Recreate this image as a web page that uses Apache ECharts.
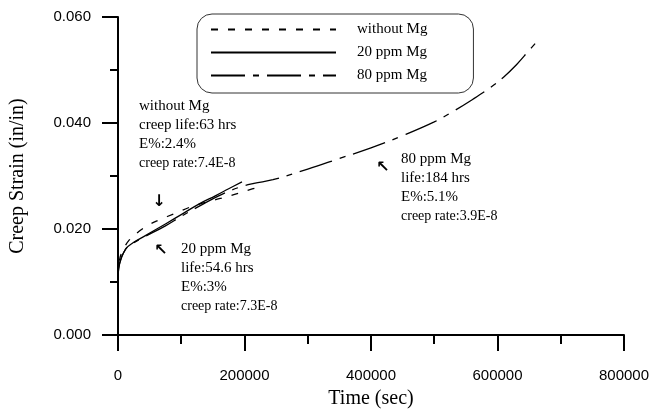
<!DOCTYPE html>
<html>
<head>
<meta charset="utf-8">
<script src="https://cdn.jsdelivr.net/npm/echarts@6/dist/echarts.min.js"></script>
<style>
  html, body { margin: 0; padding: 0; background: #fff; }
  #main { width: 652px; height: 414px; }
</style>
</head>
<body>
<div id="main"></div>
<script>
// creep curves (time in sec, strain in in/in)
var seriesNames = ['without Mg', '20 ppm Mg', '80 ppm Mg'];

var timeWithout   = [0, 3000, 8000, 17000, 36000, 47000, 65000, 91000, 118000, 150000, 175000, 205000, 227000];
var strainWithout = [0.0108, 0.0145, 0.0160, 0.0178, 0.0198, 0.0207, 0.0217, 0.0230, 0.0243, 0.0254, 0.0262, 0.0273, 0.0281];

var time20   = [0, 1000, 4700, 12600, 23700, 44000, 75700, 102600, 127800, 154600, 175000, 196000];
var strain20 = [0.0105, 0.0125, 0.0143, 0.0163, 0.0174, 0.0188, 0.0210, 0.0229, 0.0247, 0.0263, 0.0276, 0.0289];

var time80   = [0, 3000, 12000, 22000, 40000, 75000, 100000, 130000, 160000, 190000, 215000, 245000, 300000, 350000,
                400000, 450000, 500000, 530000, 560000, 590000, 610000, 630000, 650000, 662000];
var strain80 = [0.0105, 0.0138, 0.0162, 0.0172, 0.0184, 0.0206, 0.0224, 0.0244, 0.0263, 0.0278, 0.0286, 0.0293, 0.0313, 0.0333,
                0.0353, 0.0376, 0.0402, 0.0422, 0.0444, 0.0468, 0.0487, 0.0510, 0.0537, 0.0553];

var notes = [
  { x: 139, y: 97, lines: ['without Mg', 'creep life:63 hrs', 'E%:2.4%'], rate: 'creep rate:7.4E-8' },
  { x: 181, y: 240, lines: ['20 ppm Mg', 'life:54.6 hrs', 'E%:3%'], rate: 'creep rate:7.3E-8' },
  { x: 401, y: 150, lines: ['80 ppm Mg', 'life:184 hrs', 'E%:5.1%'], rate: 'creep rate:3.9E-8' }
];
var arrows = [
  { x: 159, y: 202, ch: '\u2193' },
  { x: 161, y: 251, ch: '\u2196' },
  { x: 383, y: 168, ch: '\u2196' }
];

function pairs(xs, ys) {
  return xs.map(function (t, i) { return [t, ys[i]]; });
}

var serif = '"Liberation Serif", "Times New Roman", serif';
var sans = '"Liberation Sans", Arial, sans-serif';

var chart = echarts.init(document.getElementById('main'));

var graphics = [];
notes.forEach(function (n) {
  graphics.push({
    type: 'text', left: n.x, top: n.y,
    style: {
      text: n.lines.join('\n') + '\n{r|' + n.rate + '}',
      font: '15px ' + serif, lineHeight: 19, fill: '#000',
      rich: { r: { fontSize: 14, fontFamily: serif, lineHeight: 19 } }
    }
  });
});
arrows.forEach(function (a) {
  graphics.push({
    type: 'text', x: a.x, y: a.y,
    style: {
      text: a.ch, font: 'bold 16px "DejaVu Sans", sans-serif', fill: '#000',
      align: 'center', verticalAlign: 'middle'
    }
  });
});

var lineStyles = [
  { color: '#000', width: 1.3, type: [7, 10] },
  { color: '#000', width: 1.3, type: 'solid' },
  { color: '#000', width: 1.3, type: [34, 8, 6, 8] }
];
var datasets = [pairs(timeWithout, strainWithout), pairs(time20, strain20), pairs(time80, strain80)];

var option = {
  backgroundColor: '#fff',
  animation: false,
  grid: { left: 117, right: 28, top: 17, bottom: 72 },
  legend: {
    orient: 'vertical',
    left: 197, top: 14,
    itemWidth: 125, itemHeight: 14, itemGap: 8,
    padding: [8, 46, 10, 13],
    borderColor: '#333', borderWidth: 1, borderRadius: 15,
    itemStyle: { opacity: 0 },
    textStyle: { fontFamily: serif, fontSize: 15, color: '#000', padding: [0, 0, 0, 16] },
    data: seriesNames
  },
  xAxis: {
    type: 'value', min: 0, max: 800000, interval: 200000,
    name: 'Time (sec)', nameLocation: 'middle', nameGap: 54,
    nameTextStyle: { fontFamily: serif, fontSize: 20, color: '#000' },
    axisLine: { lineStyle: { color: '#000', width: 2 } },
    axisTick: { show: true, length: 16, lineStyle: { color: '#000', width: 2 } },
    minorTick: { show: true, splitNumber: 2, length: 9, lineStyle: { color: '#000', width: 2 } },
    axisLabel: {
      fontFamily: sans, fontSize: 15, color: '#000', margin: 33,
      formatter: function (v) { return String(v); }
    },
    splitLine: { show: false }
  },
  yAxis: {
    type: 'value', min: 0, max: 0.06, interval: 0.02,
    name: 'Creep Strain (in/in)', nameLocation: 'middle', nameGap: 90,
    nameTextStyle: { fontFamily: serif, fontSize: 20, color: '#000' },
    axisLine: { show: true, lineStyle: { color: '#000', width: 2 } },
    axisTick: { show: true, length: 16, lineStyle: { color: '#000', width: 2 } },
    minorTick: { show: true, splitNumber: 2, length: 8, lineStyle: { color: '#000', width: 2 } },
    axisLabel: {
      fontFamily: sans, fontSize: 15, color: '#000', margin: 27,
      formatter: function (v) { return v.toFixed(3); }
    },
    splitLine: { show: false }
  },
  graphic: graphics,
  series: seriesNames.map(function (name, i) {
    return {
      name: name, type: 'line', data: datasets[i],
      symbol: 'none', smooth: 0.4,
      lineStyle: lineStyles[i], itemStyle: { color: '#000' }
    };
  })
};

chart.setOption(option);
</script>
</body>
</html>
